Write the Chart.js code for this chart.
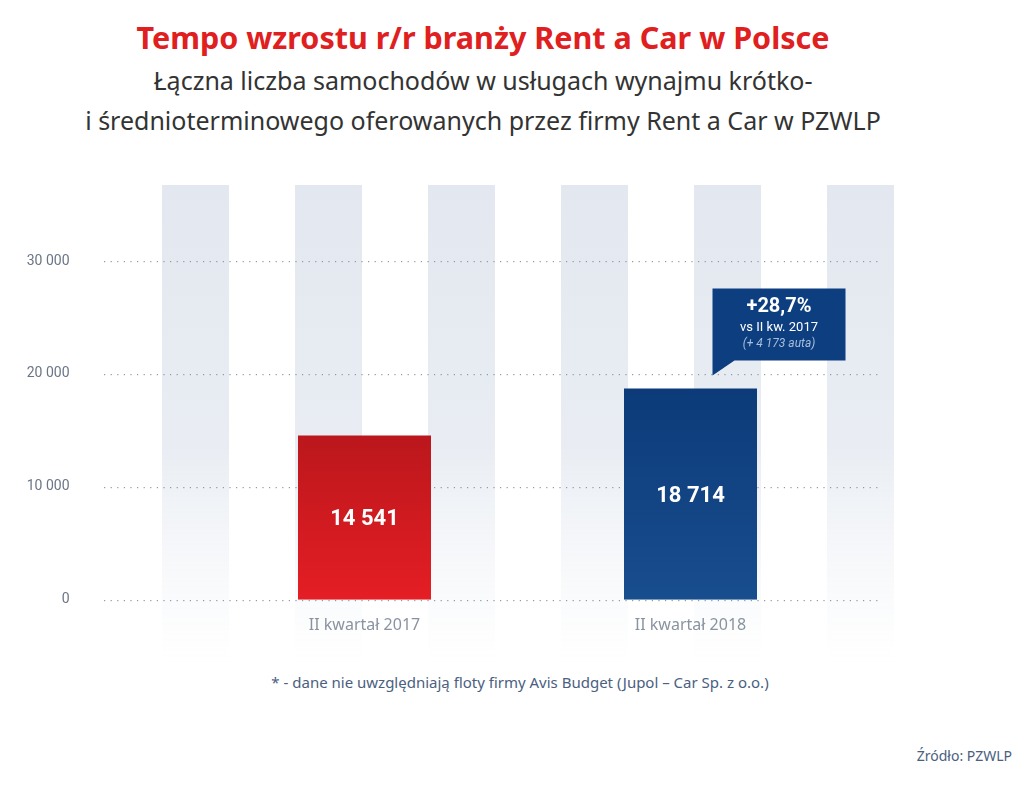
<!DOCTYPE html>
<html><head><meta charset="utf-8">
<script src="https://cdn.jsdelivr.net/npm/chart.js@4"></script>
<style>
body{margin:0;width:1024px;height:788px;background:#fff;position:relative;overflow:hidden;font-family:"Noto Sans",sans-serif}
#c{position:absolute;left:0;top:0}
.t{position:absolute;left:0;width:966px;text-align:center}
</style></head><body>
<div class="t" style="top:16px;font-size:30.5px;font-weight:bold;color:#e0201f">Tempo wzrostu r/r branży Rent a Car w Polsce</div>
<div class="t" style="top:60px;font-size:25px;color:#333;line-height:40px">Łączna liczba samochodów w usługach wynajmu krótko-<br>i średnioterminowego oferowanych przez firmy Rent a Car w PZWLP</div>
<div class="t" style="top:672px;width:1040px;font-size:15px;color:#4a6080">* - dane nie uwzględniają floty firmy Avis Budget (Jupol – Car Sp. z o.o.)</div>
<div style="position:absolute;right:12px;top:746px;font-size:14px;color:#4a6080">Źródło: PZWLP</div>
<canvas id="c" width="1024" height="788"></canvas>
<script>
const categories = ["II kwartał 2017", "II kwartał 2018"];
const values = [14541, 18714];
const yTicks = [0, 10000, 20000, 30000];
const calloutLines = ["+28,7%", "vs II kw. 2017", "(+ 4 173 auta)"];

const fmt = v => String(v).replace(/\B(?=(\d{3})+(?!\d))/g, " ");

const deco = {
  id: 'deco',
  beforeDraw(chart) {
    const ctx = chart.ctx, y = chart.scales.y;
    const stripes = [162, 295, 428, 561, 694, 827];
    stripes.forEach(x => {
      const g = ctx.createLinearGradient(0, 185, 0, 662);
      g.addColorStop(0, '#e3e8f0'); g.addColorStop(0.55, '#e9edf3'); g.addColorStop(1, 'rgba(240,243,247,0)');
      ctx.fillStyle = g; ctx.fillRect(x, 185, 67, 477);
    });
    ctx.fillStyle = '#8f98a6';
    yTicks.forEach(t => {
      const py = Math.round(y.getPixelForValue(t));
      for (let x = 104; x <= 880; x += 6.6) ctx.fillRect(x, py, 1.2, 1.2);
    });
  },
  afterDatasetsDraw(chart) {
    const ctx = chart.ctx, meta = chart.getDatasetMeta(0);
    ctx.textAlign = 'center'; ctx.textBaseline = 'middle';
    ctx.fillStyle = '#fff'; ctx.font = 'bold 22px Roboto';
    meta.data.forEach((b, i) => ctx.fillText(fmt(values[i]), b.x, (b.y + b.base) / 2 + 2));
    const b = meta.data[1];
    const L = b.x + 22, R = L + 133, B = b.y - 28, T = B - 72;
    ctx.fillStyle = '#0d3f80';
    ctx.beginPath(); ctx.moveTo(L, T); ctx.lineTo(R, T); ctx.lineTo(R, B); ctx.lineTo(L + 22, B);
    ctx.lineTo(L, B + 15); ctx.closePath(); ctx.fill();
    const cx = (L + R) / 2;
    ctx.fillStyle = '#fff'; ctx.font = 'bold 20px Roboto'; ctx.fillText(calloutLines[0], cx, T + 19);
    ctx.font = '13px Roboto'; ctx.fillText(calloutLines[1], cx, T + 39);
    ctx.fillStyle = '#a9bedc'; ctx.font = 'italic 12px Roboto'; ctx.fillText(calloutLines[2], cx, T + 56);
  }
};

new Chart(document.getElementById('c'), {
  type: 'bar',
  data: { labels: categories, datasets: [{
    data: values,
    backgroundColor: ctx => {
      const a = ctx.chart.chartArea; if (!a) return '#c00';
      const g = ctx.chart.ctx.createLinearGradient(0, a.top, 0, a.bottom);
      if (ctx.dataIndex === 0) { g.addColorStop(0.45, '#b5161b'); g.addColorStop(1, '#e41e24'); }
      else { g.addColorStop(0.35, '#0c3a78'); g.addColorStop(1, '#184d8e'); }
      return g;
    },
    barPercentage: 133 / 326, categoryPercentage: 1
  }]},
  options: {
    responsive: false, animation: false,
    layout: { padding: { top: 261, right: 170.5, bottom: 145, left: 0 } },
    plugins: { legend: { display: false }, tooltip: { enabled: false } },
    scales: {
      x: { grid: { display: false }, border: { display: false },
           ticks: { color: '#8a93a0', font: { family: 'Noto Sans', size: 16 }, padding: 8 } },
      y: { min: 0, max: 30000, grid: { display: false }, border: { display: false },
           afterFit(s) { s.width = 201.5; },
           afterBuildTicks(s) { s.ticks = yTicks.map(v => ({ value: v })); },
           ticks: { padding: 124, color: '#6b7585', font: { family: 'Roboto', size: 14 }, callback: v => fmt(v) } }
    }
  },
  plugins: [deco]
});
</script></body></html>
